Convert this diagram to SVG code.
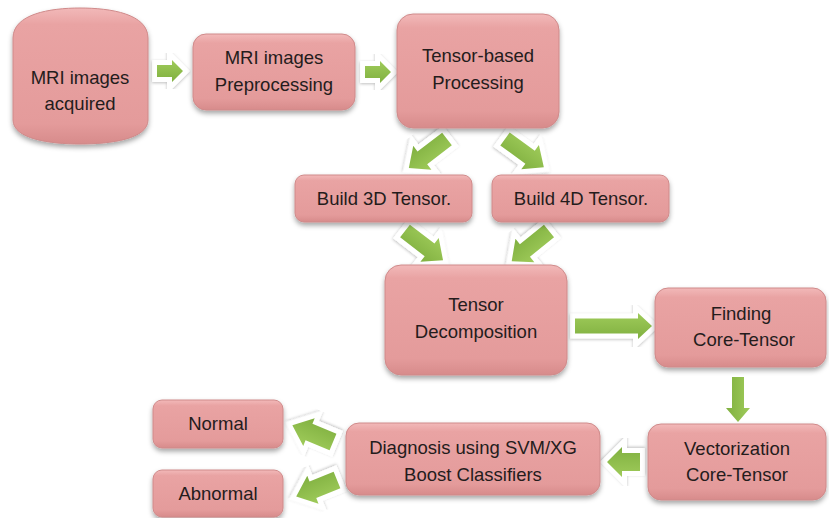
<svg xmlns="http://www.w3.org/2000/svg" width="829" height="518" viewBox="0 0 829 518">
  <defs>
    <linearGradient id="boxFill" x1="0" y1="0" x2="0" y2="1">
      <stop offset="0" stop-color="#f2b9b9"/>
      <stop offset="0.12" stop-color="#e9a3a3"/>
      <stop offset="0.85" stop-color="#e49b9b"/>
      <stop offset="1" stop-color="#d78b8b"/>
    </linearGradient>
    <linearGradient id="greenFill" x1="0" y1="0" x2="0" y2="1">
      <stop offset="0" stop-color="#9fcb5a"/>
      <stop offset="1" stop-color="#80b040"/>
    </linearGradient>
    <filter id="boxShadow" x="-10%" y="-10%" width="120%" height="130%">
      <feDropShadow dx="0" dy="3" stdDeviation="2.5" flood-color="#000" flood-opacity="0.35"/>
    </filter>
    <filter id="arrowShadow" x="-30%" y="-30%" width="160%" height="160%">
      <feDropShadow dx="0" dy="1" stdDeviation="1.5" flood-color="#000" flood-opacity="0.25"/>
    </filter>
  </defs>
  <style>
    .box { fill: url(#boxFill); stroke: #cf8a8a; stroke-width: 1; filter: url(#boxShadow); }
    .lbl { font-family: "Liberation Sans", Arial, sans-serif; font-size: 18.5px; fill: #241c1c; text-anchor: middle; }
    .halo { fill: #ffffff; stroke: #ffffff; stroke-width: 10; stroke-linejoin: miter; filter: url(#arrowShadow); }
    .arrow { fill: url(#greenFill); }
  </style>

  <rect width="829" height="518" fill="#ffffff"/>

  <!-- connectors: green block arrows on white outlines -->
  <g id="connectors">
    <g transform="translate(157,71)">
      <path class="halo" d="M0,-6 H15 V-11 L26,0 L15,11 V6 H0 Z"/>
      <path class="arrow" d="M0,-6 H15 V-11 L26,0 L15,11 V6 H0 Z"/>
    </g>
    <g transform="translate(365,72)">
      <path class="halo" d="M0,-6 H15 V-11 L26,0 L15,11 V6 H0 Z"/>
      <path class="arrow" d="M0,-6 H15 V-11 L26,0 L15,11 V6 H0 Z"/>
    </g>
    <g transform="translate(447,139) rotate(142.7)">
      <path class="halo" d="M0,-8 H31 V-15 L48,0 L31,15 V8 H0 Z"/>
      <path class="arrow" d="M0,-8 H31 V-15 L48,0 L31,15 V8 H0 Z"/>
    </g>
    <g transform="translate(505,139) rotate(36)">
      <path class="halo" d="M0,-8 H31 V-15 L48,0 L31,15 V8 H0 Z"/>
      <path class="arrow" d="M0,-8 H31 V-15 L48,0 L31,15 V8 H0 Z"/>
    </g>
    <g transform="translate(405,231) rotate(37.6)">
      <path class="halo" d="M0,-8 H31 V-15 L48,0 L31,15 V8 H0 Z"/>
      <path class="arrow" d="M0,-8 H31 V-15 L48,0 L31,15 V8 H0 Z"/>
    </g>
    <g transform="translate(549,231) rotate(141)">
      <path class="halo" d="M0,-8 H31 V-15 L48,0 L31,15 V8 H0 Z"/>
      <path class="arrow" d="M0,-8 H31 V-15 L48,0 L31,15 V8 H0 Z"/>
    </g>
    <g transform="translate(575,326)">
      <path class="halo" d="M0,-7.5 H63 V-13 L77,0 L63,13 V7.5 H0 Z"/>
      <path class="arrow" d="M0,-7.5 H63 V-13 L77,0 L63,13 V7.5 H0 Z"/>
    </g>
    <g transform="translate(738,377) rotate(90)">
      <path class="arrow" d="M0,-6 H31 V-12 L45,0 L31,12 V6 H0 Z"/>
    </g>
    <g transform="translate(640,462) rotate(180)">
      <path class="halo" d="M0,-9 H18 V-15 L33,0 L18,15 V9 H0 Z"/>
      <path class="arrow" d="M0,-9 H18 V-15 L33,0 L18,15 V9 H0 Z"/>
    </g>
    <g transform="translate(333,442) rotate(202.5)">
      <path class="halo" d="M0,-9 H26 V-15 L44,0 L26,15 V9 H0 Z"/>
      <path class="arrow" d="M0,-9 H26 V-15 L44,0 L26,15 V9 H0 Z"/>
    </g>
    <g transform="translate(337,480) rotate(158)">
      <path class="halo" d="M0,-9 H26 V-15 L44,0 L26,15 V9 H0 Z"/>
      <path class="arrow" d="M0,-9 H26 V-15 L44,0 L26,15 V9 H0 Z"/>
    </g>
  </g>

  <!-- nodes -->
  <g id="acquired">
    <path class="box" d="M13,38 C13,14 50,8 80,8 C111,8 148,14 148,38 L148,120 C148,139 111,144 80,144 C50,144 13,139 13,120 Z"/>
    <text class="lbl" x="80" y="84">MRI images</text>
    <text class="lbl" x="80" y="110">acquired</text>
  </g>
  <g id="preprocessing">
    <rect class="box" x="193" y="34" width="162" height="76" rx="13"/>
    <text class="lbl" x="274" y="64">MRI images</text>
    <text class="lbl" x="274" y="91">Preprocessing</text>
  </g>
  <g id="tensorBased">
    <rect class="box" x="397" y="14" width="162" height="114" rx="16"/>
    <text class="lbl" x="478" y="62">Tensor-based</text>
    <text class="lbl" x="478" y="89">Processing</text>
  </g>
  <g id="build3d">
    <rect class="box" x="295" y="175" width="177" height="47" rx="9"/>
    <text class="lbl" x="384" y="205">Build 3D Tensor.</text>
  </g>
  <g id="build4d">
    <rect class="box" x="492" y="175" width="177" height="47" rx="9"/>
    <text class="lbl" x="581" y="205">Build 4D Tensor.</text>
  </g>
  <g id="decomposition">
    <rect class="box" x="385" y="265" width="182" height="110" rx="16"/>
    <text class="lbl" x="476" y="311">Tensor</text>
    <text class="lbl" x="476" y="338">Decomposition</text>
  </g>
  <g id="coreTensor">
    <rect class="box" x="655" y="288" width="171" height="79" rx="13"/>
    <text class="lbl" x="741" y="320">Finding</text>
    <text class="lbl" x="744" y="346">Core-Tensor</text>
  </g>
  <g id="vectorization">
    <rect class="box" x="648" y="424" width="178" height="76" rx="13"/>
    <text class="lbl" x="737" y="455">Vectorization</text>
    <text class="lbl" x="737" y="481">Core-Tensor</text>
  </g>
  <g id="diagnosis">
    <rect class="box" x="346" y="423" width="254" height="72" rx="13"/>
    <text class="lbl" x="473" y="454">Diagnosis using SVM/XG</text>
    <text class="lbl" x="473" y="481">Boost Classifiers</text>
  </g>
  <g id="normal">
    <rect class="box" x="153" y="400" width="130" height="48" rx="9"/>
    <text class="lbl" x="218" y="430">Normal</text>
  </g>
  <g id="abnormal">
    <rect class="box" x="153" y="470" width="130" height="47" rx="9"/>
    <text class="lbl" x="218" y="500">Abnormal</text>
  </g>
</svg>
